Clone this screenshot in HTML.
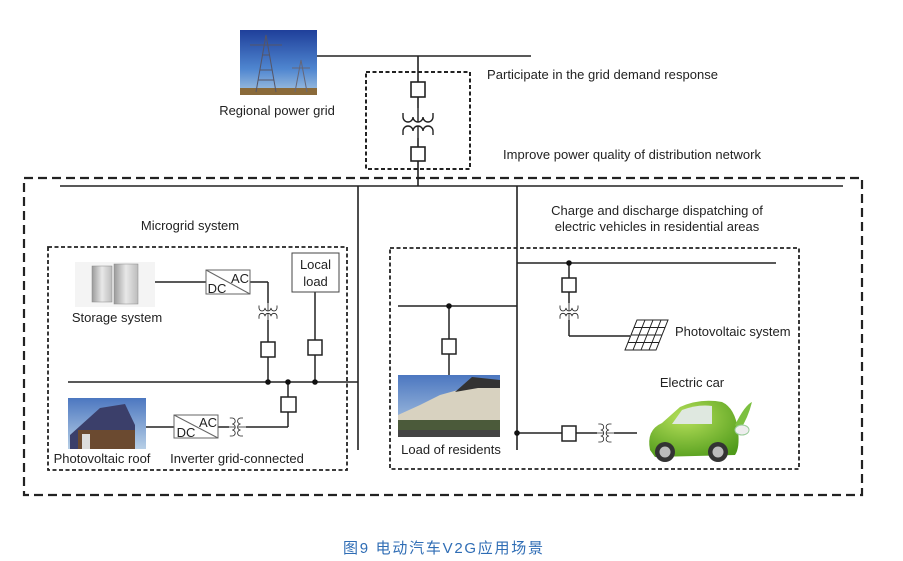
<!DOCTYPE html>
<html><head><meta charset="utf-8"><style>
html,body{margin:0;padding:0;background:#fff;}
svg{display:block;}
text{font-family:"Liberation Sans",Arial,sans-serif;font-size:13px;fill:#222;}
</style></head><body>
<svg width="903" height="561" viewBox="0 0 903 561" xmlns="http://www.w3.org/2000/svg">
<defs>
<g id="tv" fill="none" stroke="#222" stroke-width="1.4">
<path d="M-15,-10 v4 a5,5 0 0 0 10,0 a5,5 0 0 0 10,0 a5,5 0 0 0 10,0 v-4"/>
<path d="M-15,12 v-4 a5,5 0 0 1 10,0 a5,5 0 0 1 10,0 a5,5 0 0 1 10,0 v4"/>
<path d="M0,-15 V-1 M0,3 V15"/>
</g>
<linearGradient id="sky" x1="0" y1="0" x2="0" y2="1"><stop offset="0" stop-color="#1f3f9a"/><stop offset="0.6" stop-color="#4f86d0"/><stop offset="1" stop-color="#a8c6e0"/></linearGradient>
<linearGradient id="sky2" x1="0" y1="0" x2="0" y2="1"><stop offset="0" stop-color="#4c77c0"/><stop offset="1" stop-color="#b7cfe6"/></linearGradient>
<linearGradient id="cab" x1="0" y1="0" x2="1" y2="0"><stop offset="0" stop-color="#9a9a9a"/><stop offset="0.5" stop-color="#e8e8e8"/><stop offset="1" stop-color="#bcbcbc"/></linearGradient>
<radialGradient id="green" cx="0.4" cy="0.3" r="0.8"><stop offset="0" stop-color="#b6e05a"/><stop offset="1" stop-color="#4f9a1a"/></radialGradient>
</defs>

<rect x="240" y="30" width="77" height="65" fill="url(#sky)"/>
<rect x="240" y="88" width="77" height="7" fill="#8a6a3a"/>
<path d="M256,92 L266,35 L276,92 M260,70 H272 M258,80 H274 M262,55 H270 M250,45 H282" stroke="#556" stroke-width="1" fill="none"/>
<path d="M295,92 L301,60 L307,92 M292,68 H310" stroke="#667" stroke-width="1" fill="none"/>
<text x="277" y="115" text-anchor="middle">Regional power grid</text>

<g stroke="#222" stroke-width="1.6" fill="none">
<line x1="317" y1="56" x2="531" y2="56"/>
<line x1="418" y1="56" x2="418" y2="82"/>
<rect x="411" y="82" width="14" height="15" fill="#fff"/>
<line x1="418" y1="97" x2="418" y2="108"/>
<line x1="418" y1="138" x2="418" y2="147"/>
<rect x="411" y="147" width="14" height="14" fill="#fff"/>
<line x1="418" y1="161" x2="418" y2="186"/>
</g>
<use href="#tv" transform="translate(418,123)"/>
<rect x="366" y="72" width="104" height="97" fill="none" stroke="#222" stroke-width="2" stroke-dasharray="4,2.5"/>
<text x="487" y="79" textLength="231">Participate in the grid demand response</text>
<text x="503" y="159" textLength="258">Improve power quality of distribution network</text>

<rect x="24" y="178" width="838" height="317" fill="none" stroke="#222" stroke-width="2.2" stroke-dasharray="9,5"/>
<g stroke="#222" stroke-width="1.6" fill="none">
<line x1="60" y1="186" x2="843" y2="186"/>
<line x1="358" y1="186" x2="358" y2="450"/>
<line x1="517" y1="186" x2="517" y2="450"/>
</g>
<text x="190" y="230" text-anchor="middle">Microgrid system</text>
<text x="657" y="215" text-anchor="middle">Charge and discharge dispatching of</text>
<text x="657" y="231" text-anchor="middle">electric vehicles in residential areas</text>

<rect x="48" y="247" width="299" height="223" fill="none" stroke="#222" stroke-width="1.8" stroke-dasharray="4,2.5"/>
<rect x="75" y="262" width="80" height="45" fill="#f4f4f4"/>
<rect x="92" y="266" width="20" height="36" fill="url(#cab)" stroke="#888" stroke-width="0.5"/>
<rect x="114" y="264" width="24" height="40" fill="url(#cab)" stroke="#888" stroke-width="0.5"/>
<text x="117" y="322" text-anchor="middle">Storage system</text>
<g stroke="#222" stroke-width="1.5" fill="none">
<line x1="155" y1="282" x2="206" y2="282"/>
<line x1="250" y1="282" x2="268" y2="282"/>
<line x1="268" y1="282" x2="268" y2="303"/>
<line x1="268" y1="320" x2="268" y2="342"/>
<rect x="261" y="342" width="14" height="15" fill="#fff"/>
<line x1="268" y1="357" x2="268" y2="382"/>
<line x1="315" y1="292" x2="315" y2="340"/>
<rect x="308" y="340" width="14" height="15" fill="#fff"/>
<line x1="315" y1="355" x2="315" y2="382"/>
<line x1="68" y1="382" x2="358" y2="382"/>
<line x1="288" y1="382" x2="288" y2="397"/>
<rect x="281" y="397" width="15" height="15" fill="#fff"/>
<line x1="288" y1="412" x2="288" y2="427"/>
<line x1="288" y1="427" x2="246" y2="427"/>
<line x1="218" y1="427" x2="229" y2="427"/>
<line x1="145" y1="427" x2="174" y2="427"/>
</g>
<g stroke="#666" stroke-width="1" fill="#fff">
<rect x="206" y="270" width="44" height="24"/>
<line x1="206" y1="270" x2="250" y2="294"/>
<rect x="174" y="415" width="44" height="23"/>
<line x1="174" y1="415" x2="218" y2="438"/>
</g>
<text x="240" y="283" text-anchor="middle">AC</text>
<text x="217" y="293" text-anchor="middle">DC</text>
<text x="208" y="427" text-anchor="middle">AC</text>
<text x="186" y="437" text-anchor="middle">DC</text>
<use href="#tv" transform="translate(268,311.5) scale(0.6)"/>
<use href="#tv" transform="translate(237,427) rotate(90) scale(0.6)"/>
<rect x="292" y="253" width="47" height="39" fill="#fff" stroke="#444" stroke-width="1"/>
<text x="315.5" y="269" text-anchor="middle">Local</text>
<text x="315.5" y="286" text-anchor="middle">load</text>
<g fill="#111"><circle cx="268" cy="382" r="2.8"/><circle cx="288" cy="382" r="2.8"/><circle cx="315" cy="382" r="2.8"/></g>
<rect x="68" y="398" width="78" height="51" fill="url(#sky2)"/>
<path d="M70,435 L100,408 L125,404 L135,425 L135,449 L70,449 Z" fill="#3b3f6a"/>
<path d="M78,430 H135 V449 H78 Z" fill="#6b4a30"/>
<rect x="82" y="434" width="8" height="15" fill="#ddd"/>
<text x="102" y="463" text-anchor="middle">Photovoltaic roof</text>
<text x="237" y="463" text-anchor="middle">Inverter grid-connected</text>

<rect x="390" y="248" width="409" height="221" fill="none" stroke="#222" stroke-width="1.8" stroke-dasharray="4,2.5"/>
<g stroke="#222" stroke-width="1.5" fill="none">
<line x1="517" y1="263" x2="776" y2="263"/>
<line x1="569" y1="263" x2="569" y2="278"/>
<rect x="562" y="278" width="14" height="14" fill="#fff"/>
<line x1="569" y1="292" x2="569" y2="303"/>
<line x1="569" y1="320" x2="569" y2="336"/>
<line x1="569" y1="336" x2="630" y2="336"/>
<line x1="398" y1="306" x2="517" y2="306"/>
<line x1="449" y1="306" x2="449" y2="339"/>
<rect x="442" y="339" width="14" height="15" fill="#fff"/>
<line x1="449" y1="354" x2="449" y2="375"/>
<line x1="517" y1="433" x2="562" y2="433"/>
<rect x="562" y="426" width="14" height="15" fill="#fff"/>
<line x1="576" y1="433" x2="597" y2="433"/>
<line x1="614" y1="433" x2="637" y2="433"/>
</g>
<use href="#tv" transform="translate(569,311.5) scale(0.6)"/>
<use href="#tv" transform="translate(605.5,433) rotate(90) scale(0.6)"/>
<g fill="#111"><circle cx="569" cy="263" r="2.8"/><circle cx="449" cy="306" r="2.8"/><circle cx="517" cy="433" r="2.8"/></g>
<g stroke="#222" stroke-width="1" fill="#fff">
<path d="M637,320 H668 L656,350 H625 Z"/>
<path d="M634,327.5 H665 M631,335 H662 M628,342.5 H659 M645,320 L633,350 M653,320 L641,350 M661,320 L649,350"/>
</g>
<text x="675" y="336">Photovoltaic system</text>
<rect x="398" y="375" width="102" height="62" fill="url(#sky2)"/>
<path d="M398,415 L420,405 L440,395 L458,390 L472,378 L500,382 V437 H398 Z" fill="#d8d2c0"/>
<path d="M455,392 L472,377 L500,380 V388 L478,388 Z" fill="#333"/>
<rect x="398" y="420" width="102" height="17" fill="#4b5a3a"/>
<rect x="398" y="430" width="102" height="7" fill="#444"/>
<text x="451" y="454" text-anchor="middle">Load of residents</text>
<text x="692" y="387" text-anchor="middle">Electric car</text>

<path d="M650,450 Q646,430 662,423 L680,407 Q700,398 722,402 Q735,408 738,430 Q740,448 735,455 L655,457 Z" fill="url(#green)"/>
<path d="M682,410 Q698,404 712,406 L712,424 L672,424 Z" fill="#dfe8e0"/>
<circle cx="665" cy="452" r="10" fill="#333"/><circle cx="665" cy="452" r="5.5" fill="#bbb"/>
<circle cx="718" cy="452" r="10" fill="#333"/><circle cx="718" cy="452" r="5.5" fill="#bbb"/>
<path d="M735,425 Q745,405 752,402 Q748,418 740,430 Z" fill="#7cc040"/>
<ellipse cx="742" cy="430" rx="7" ry="5" fill="#eee" stroke="#9c9" stroke-width="1"/>

<text x="343" y="553" textLength="200" style="font-family:'Liberation Sans','Noto Sans CJK SC',sans-serif;font-size:15px;fill:#2f6db5">图9  电动汽车V2G应用场景</text>
</svg>
</body></html>
